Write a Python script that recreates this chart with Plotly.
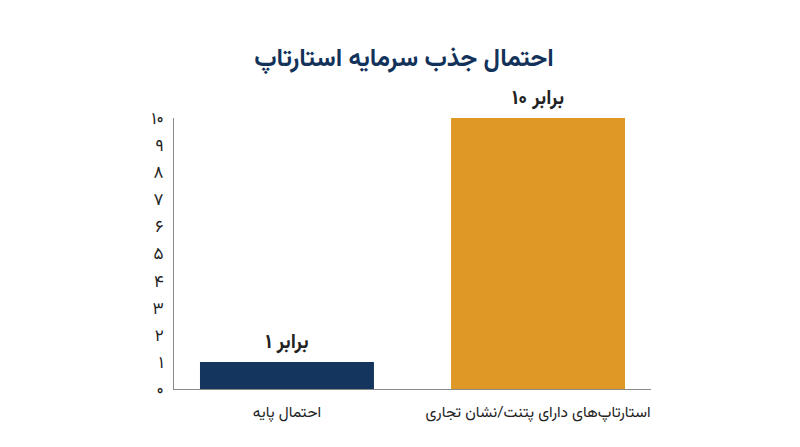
import plotly.graph_objects as go

categories = ["احتمال پایه", "استارتاپ‌های دارای پتنت/نشان تجاری"]
values = [1, 10]
bar_labels = ["۱ برابر", "۱۰ برابر"]
bar_colors = ["#14365E", "#DF9825"]
tick_vals = list(range(0, 11))
tick_text = ["۰", "۱", "۲", "۳", "۴", "۵", "۶", "۷", "۸", "۹", "۱۰"]
title_text = "احتمال جذب سرمایه استارتاپ"

FONT = "Vazirmatn, Noto Sans Arabic, DejaVu Sans, sans-serif"

fig = go.Figure(go.Bar(
    x=[0, 1], y=values,
    marker=dict(color=bar_colors, line=dict(width=0)),
    width=0.693,
    text=bar_labels, textposition="outside",
    textfont=dict(size=20, color="#222222", family=FONT, weight="bold"),
    cliponaxis=False,
    hoverinfo="skip",
))

fig.update_layout(
    width=792, height=439,
    margin=dict(l=166, r=149, t=110, b=58),
    paper_bgcolor="white", plot_bgcolor="white",
    showlegend=False,
    title=dict(text=title_text, x=0.5, xanchor="center", y=0.888, yanchor="middle",
               font=dict(size=25, color="#13325A", family=FONT, weight="bold")),
    font=dict(family=FONT, color="#222222"),
)
fig.update_xaxes(
    range=[-0.45, 1.45], tickvals=[0, 1], ticktext=categories,
    showgrid=False, zeroline=False, showline=True, linecolor="#8a8a8a", linewidth=1,
    ticks="", tickfont=dict(size=15.5, color="#222222", family=FONT),
    ticklabelstandoff=8,
)
fig.update_yaxes(
    range=[0, 10], tickvals=tick_vals, ticktext=tick_text,
    showgrid=False, zeroline=False, showline=True, linecolor="#8a8a8a", linewidth=1,
    ticks="", tickfont=dict(size=17, color="#222222", family=FONT),
    ticklabelstandoff=6,
)

fig.write_html("out.html")
